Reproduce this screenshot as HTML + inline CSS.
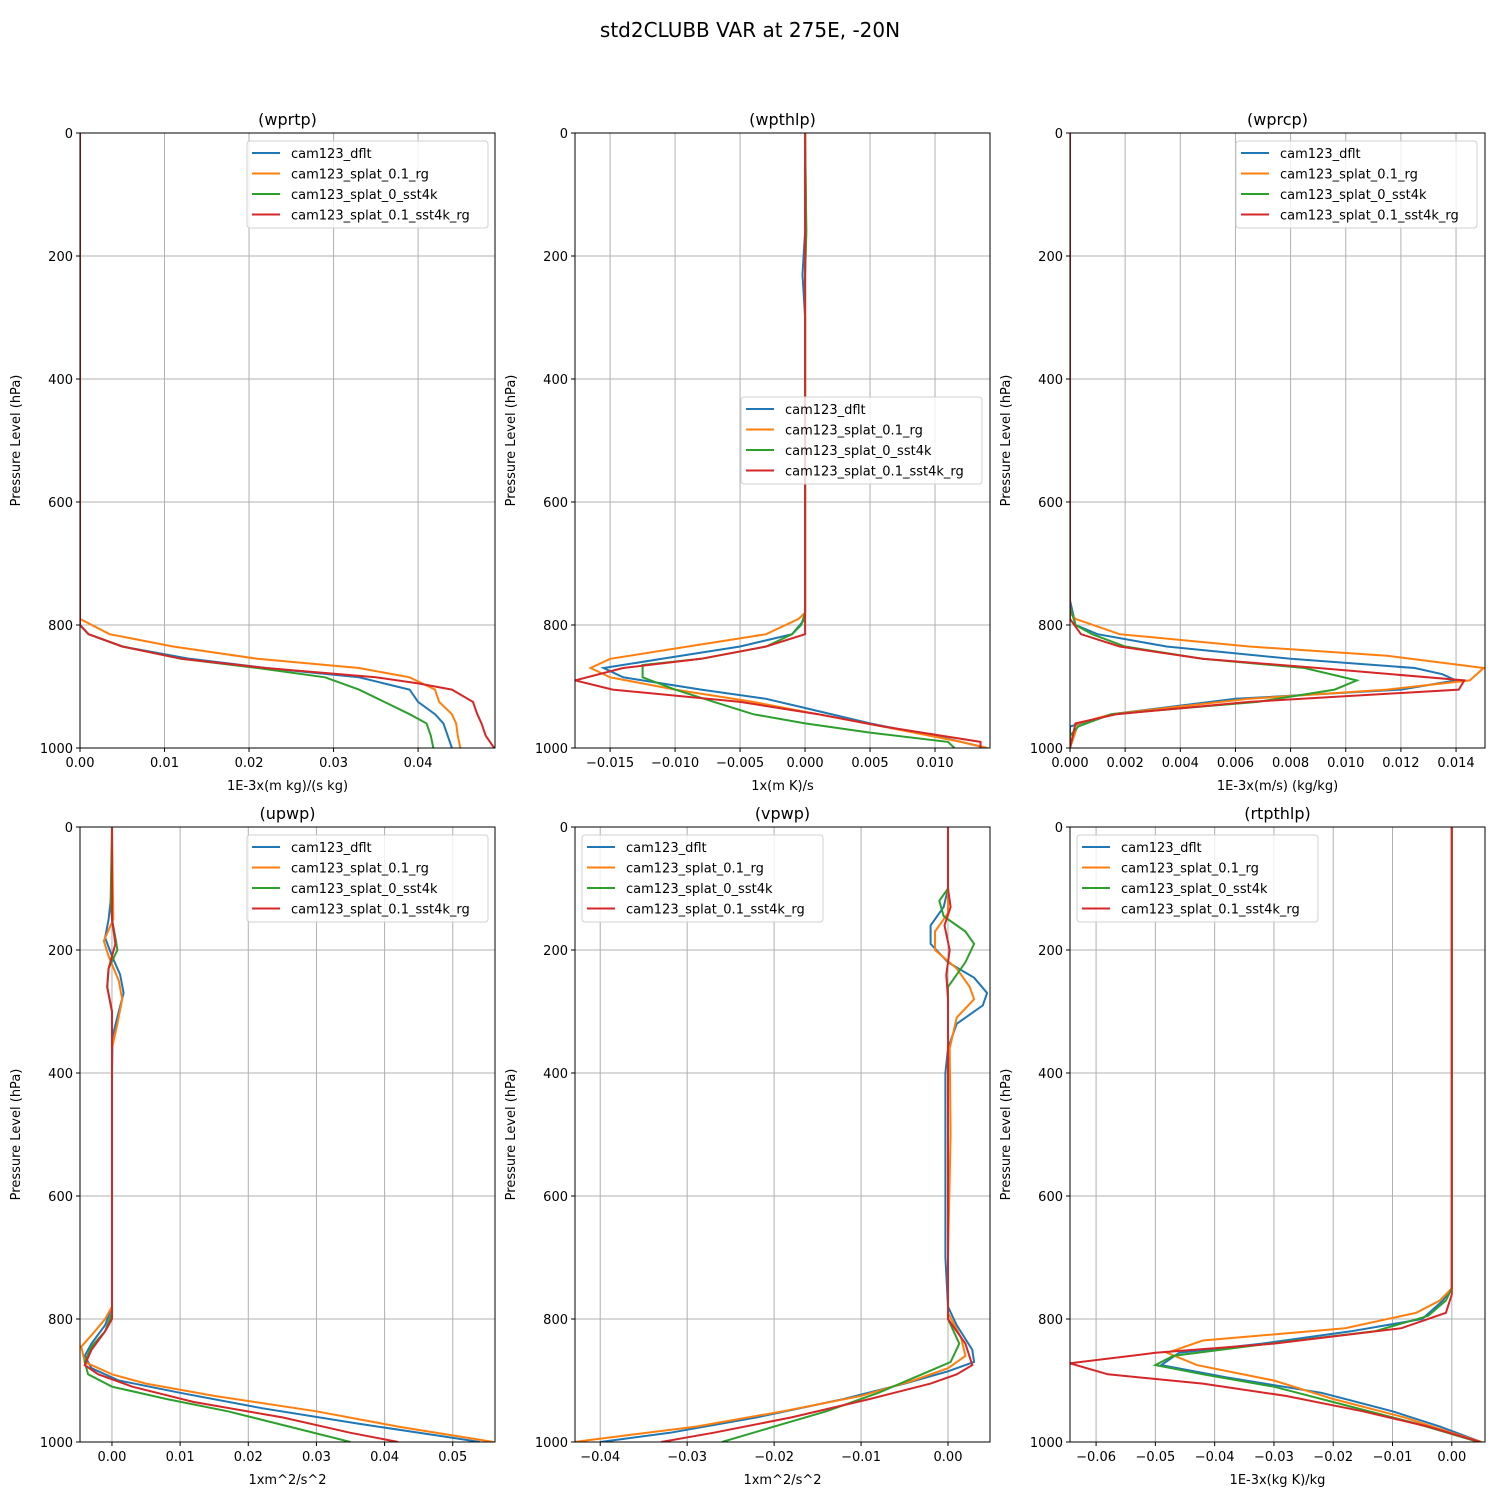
<!DOCTYPE html>
<html><head><meta charset="utf-8"><style>
body{margin:0;background:#fff;}
svg{display:block;font-family:"DejaVu Sans","Liberation Sans",sans-serif;}
</style></head><body>
<svg id="fig" width="1500" height="1500" viewBox="0 0 1500 1500">
<rect width="1500" height="1500" fill="#fff"/>
<text x="750" y="37" font-size="20" text-anchor="middle">std2CLUBB VAR at 275E, -20N</text>
</svg>
<script>
const seriesNames=["cam123_dflt","cam123_splat_0.1_rg","cam123_splat_0_sst4k","cam123_splat_0.1_sst4k_rg"];
const colors=["#1f77b4","#ff7f0e","#2ca02c","#d62728"];
const yTicks=[0,200,400,600,800,1000];
// wprtp
const wprtpP=[[0,760,800,815,835,855,870,885,905,925,945,960,980,1000],[0,760,790,815,835,855,870,885,905,925,945,960,980,1000],[0,760,800,815,835,855,870,885,905,925,945,960,980,1000],[0,760,800,815,835,855,870,885,895,905,925,945,960,980,1000]];
const wprtpV=[[0,0,0,0.001,0.005,0.013,0.022,0.033,0.039,0.040,0.042,0.043,0.0435,0.044],[0,0,0,0.0035,0.011,0.021,0.033,0.039,0.042,0.0425,0.044,0.0445,0.0447,0.045],[0,0,0,0.001,0.005,0.012,0.021,0.029,0.033,0.036,0.039,0.041,0.0415,0.0418],[0,0,0,0.001,0.005,0.012,0.022,0.035,0.040,0.044,0.0465,0.047,0.0475,0.048,0.049]];
const wprtpTicks=[0,0.01,0.02,0.03,0.04];
// wpthlp
const wpthlpP=[[0,160,230,300,780,790,815,835,855,870,885,905,920,935,960,985,1000],[0,160,230,300,780,790,815,835,855,870,885,905,925,945,965,990,1000],[0,160,230,300,780,800,815,835,855,865,885,905,925,945,960,975,990,1000],[0,160,230,300,780,790,815,835,855,870,890,905,925,945,965,990,1000]];
const wpthlpV=[[0,0,-0.0002,0,0,0,-0.001,-0.005,-0.011,-0.0155,-0.014,-0.008,-0.003,0,0.005,0.011,0.014],[0,0.0001,0,0,0,-0.0005,-0.003,-0.009,-0.015,-0.0165,-0.015,-0.010,-0.004,0.001,0.006,0.012,0.014],[0,0.0001,0,0,0,-0.0003,-0.001,-0.003,-0.008,-0.0125,-0.0125,-0.010,-0.007,-0.004,0,0.005,0.011,0.0115],[0,0,0,0,0,0,0,-0.003,-0.008,-0.014,-0.0177,-0.0148,-0.005,0.001,0.006,0.0135,0.0135]];
const wpthlpTicks=[-0.015,-0.010,-0.005,0.000,0.005,0.010];
// wprcp
const wprcpP=[[0,760,800,815,835,855,870,880,890,905,920,945,965,1000],[0,780,790,815,835,850,870,890,905,920,945,960,1000],[0,770,800,815,835,855,870,890,905,925,945,965,980,1000],[0,790,815,835,855,870,890,905,925,945,960,1000]];
const wprcpV=[[0,0,0.0002,0.001,0.0035,0.008,0.0125,0.0135,0.014,0.012,0.006,0.0015,0,0],[0,0,0.0002,0.0018,0.0065,0.0115,0.015,0.0145,0.0115,0.0065,0.0015,0.0003,0],[0,0,0.0002,0.0008,0.002,0.0048,0.0085,0.0104,0.0096,0.0068,0.0015,0.0003,0,0],[0,0,0.0004,0.0018,0.0048,0.009,0.0143,0.0141,0.0065,0.0017,0.0002,0]];
const wprcpTicks=[0,0.002,0.004,0.006,0.008,0.010,0.012,0.014];
// upwp
const upwpP=[[0,100,150,180,210,240,270,300,340,400,780,810,840,860,880,900,920,945,970,990,1000],[0,150,185,210,250,280,320,360,780,800,820,845,870,890,905,925,950,975,1000],[0,120,150,180,200,230,260,300,790,820,845,870,890,910,930,950,975,1000],[0,150,190,230,260,300,800,820,850,875,890,910,935,960,985,1000]];
const upwpV=[[0,0,-0.0005,-0.001,0,0.0012,0.0017,0.001,0.0001,0,0,-0.001,-0.003,-0.004,-0.003,0.001,0.010,0.022,0.036,0.048,0.054],[0,0.0002,-0.0012,-0.0005,0.001,0.0015,0.0008,0,0,-0.001,-0.0025,-0.0045,-0.004,0,0.005,0.015,0.030,0.042,0.056],[0,-0.0002,0,0.0005,0.0008,-0.0005,-0.0007,0,0,-0.001,-0.003,-0.004,-0.0035,0,0.008,0.017,0.026,0.035],[0,0,0.0005,-0.0005,-0.0007,0,0,-0.001,-0.003,-0.004,-0.002,0.003,0.012,0.025,0.035,0.042]];
const upwpTicks=[0,0.01,0.02,0.03,0.04,0.05];
// vpwp
const vpwpP=[[0,100,130,160,190,220,245,270,290,320,360,400,700,780,810,850,870,885,905,930,960,985,1000],[0,140,170,200,230,260,280,310,360,500,700,790,830,860,880,900,925,950,975,1000],[0,100,120,145,170,190,220,260,300,800,840,870,890,920,950,975,1000],[0,100,130,160,200,240,280,350,800,840,875,890,905,930,960,985,1000]];
const vpwpV=[[0,0,-0.0005,-0.002,-0.002,0,0.003,0.0045,0.004,0.001,0,-0.0003,-0.0003,0,0.001,0.0028,0.003,0,-0.005,-0.012,-0.022,-0.032,-0.040],[0,0,-0.0015,-0.0015,0.001,0.0025,0.003,0.001,0.0002,0.0003,0,0,0.0015,0.002,0,-0.004,-0.010,-0.019,-0.029,-0.043],[0,0,-0.001,-0.0005,0.002,0.003,0.002,0,0,0,0.0013,0.0003,-0.003,-0.008,-0.014,-0.020,-0.026],[0,0,0.0003,-0.0004,0.0002,-0.0002,0,0,0,0.002,0.0028,0.001,-0.002,-0.009,-0.018,-0.027,-0.033]];
const vpwpTicks=[-0.04,-0.03,-0.02,-0.01,0.00];
// rtpthlp
const rtpP=[[0,750,770,800,820,840,855,875,895,920,950,975,1000],[0,750,770,790,815,835,855,875,900,930,960,985,1000],[0,750,770,795,820,845,860,875,890,910,940,970,1000],[0,760,790,815,840,855,872,890,905,925,950,975,1000]];
const rtpV=[[0,0,-0.0015,-0.005,-0.017,-0.032,-0.046,-0.049,-0.038,-0.022,-0.010,-0.002,0.005],[0,0,-0.002,-0.006,-0.018,-0.042,-0.048,-0.043,-0.030,-0.020,-0.008,0,0.005],[0,0,-0.001,-0.004,-0.013,-0.035,-0.047,-0.050,-0.042,-0.030,-0.018,-0.006,0.0045],[0,0,-0.001,-0.0085,-0.030,-0.050,-0.0644,-0.058,-0.042,-0.028,-0.015,-0.004,0.0048]];
const rtpTicks=[-0.06,-0.05,-0.04,-0.03,-0.02,-0.01,0.00];

const panels=[
 {id:"wprtp",x0:80,y0:133,xmin:0,xmax:0.0491,P:wprtpP,V:wprtpV,ticks:wprtpTicks,dec:2,xl:"1E-3x(m kg)/(s kg)",leg:[247,141]},
 {id:"wpthlp",x0:575,y0:133,xmin:-0.0177,xmax:0.01423,P:wpthlpP,V:wpthlpV,ticks:wpthlpTicks,dec:3,xl:"1x(m K)/s",leg:[741,397]},
 {id:"wprcp",x0:1070,y0:133,xmin:0,xmax:0.01505,P:wprcpP,V:wprcpV,ticks:wprcpTicks,dec:3,xl:"1E-3x(m/s) (kg/kg)",leg:[1236,141]},
 {id:"upwp",x0:80,y0:827,xmin:-0.00469,xmax:0.0562,P:upwpP,V:upwpV,ticks:upwpTicks,dec:2,xl:"1xm^2/s^2",leg:[247,835]},
 {id:"vpwp",x0:575,y0:827,xmin:-0.0429,xmax:0.00483,P:vpwpP,V:vpwpV,ticks:vpwpTicks,dec:2,xl:"1xm^2/s^2",leg:[582,835]},
 {id:"rtpthlp",x0:1070,y0:827,xmin:-0.0644,xmax:0.0056,P:rtpP,V:rtpV,ticks:rtpTicks,dec:2,xl:"1E-3x(kg K)/kg",leg:[1077,835]}
];
const NS="http://www.w3.org/2000/svg";
const fig=document.getElementById("fig");
function mk(tag,attrs,parent){const e=document.createElementNS(NS,tag);for(const k in attrs)e.setAttribute(k,attrs[k]);(parent||fig).appendChild(e);return e;}
const W=415,H=615;
panels.forEach(pn=>{
 const g=mk("g",{});
 
 
 const xs=v=>pn.x0+(v-pn.xmin)/(pn.xmax-pn.xmin)*W;
 const ys=p=>pn.y0+p/1000*H;
 const cp=mk("clipPath",{id:"c"+pn.id},g);
 mk("rect",{x:pn.x0,y:pn.y0,width:W,height:H},cp);
 pn.ticks.forEach(t=>{const x=xs(t);mk("line",{x1:x,x2:x,y1:pn.y0,y2:pn.y0+H,stroke:"#b0b0b0","stroke-width":1},g);
  mk("line",{x1:x,x2:x,y1:pn.y0+H,y2:pn.y0+H+4,stroke:"#000","stroke-width":1},g);
  const tx=mk("text",{x:x,y:pn.y0+H+19,"font-size":13,"text-anchor":"middle"},g);
  
  
  tx.textContent=(t<0?"\u2212":"")+Math.abs(t).toFixed(pn.dec);});
 yTicks.forEach(t=>{const y=ys(t);mk("line",{x1:pn.x0,x2:pn.x0+W,y1:y,y2:y,stroke:"#b0b0b0","stroke-width":1},g);
  mk("line",{x1:pn.x0-4,x2:pn.x0,y1:y,y2:y,stroke:"#000","stroke-width":1},g);
  const tx=mk("text",{x:pn.x0-7,y:y+5,"font-size":13,"text-anchor":"end"},g);
  
  
  tx.textContent=t;});
 pn.V.forEach((vals,i)=>{
  const d=vals.map((v,j)=>(j?"L":"M")+xs(v).toFixed(1)+","+ys(pn.P[i][j]).toFixed(1)).join("");
  const l=mk("path",{d:d,fill:"none",stroke:colors[i],"stroke-width":2,"clip-path":"url(#c"+pn.id+")"},g);
  
  
 });
 const fr=mk("rect",{x:pn.x0,y:pn.y0,width:W,height:H,fill:"none",stroke:"#000","stroke-width":1},g);
 
 
 const tt=mk("text",{x:pn.x0+W/2,y:pn.y0-8,"font-size":16,"text-anchor":"middle"},g);
 
 
 tt.textContent="("+pn.id+")";
 const xl=mk("text",{x:pn.x0+W/2,y:pn.y0+H+42,"font-size":13,"text-anchor":"middle"},g);
 
 
 xl.textContent=pn.xl;
 const yl=mk("text",{x:0,y:0,"font-size":13,"text-anchor":"middle",transform:"translate("+(pn.x0-60)+","+(pn.y0+H/2)+") rotate(-90)"},g);
 
 
 yl.textContent="Pressure Level (hPa)";
 const lg=mk("g",{},g);
 
 
 const [lx,ly]=pn.leg;
 mk("rect",{x:lx,y:ly,width:241,height:87,rx:3,fill:"#fff","fill-opacity":0.8,stroke:"#d0d0d0"},lg);
 seriesNames.forEach((n,i)=>{const yy=ly+12+i*20.5;
  mk("line",{x1:lx+5,x2:lx+33,y1:yy,y2:yy,stroke:colors[i],"stroke-width":2},lg);
  const t=mk("text",{x:lx+44,y:yy+5,"font-size":13},lg);
  
  
  t.textContent=n;});
});
</script>
</body></html>
